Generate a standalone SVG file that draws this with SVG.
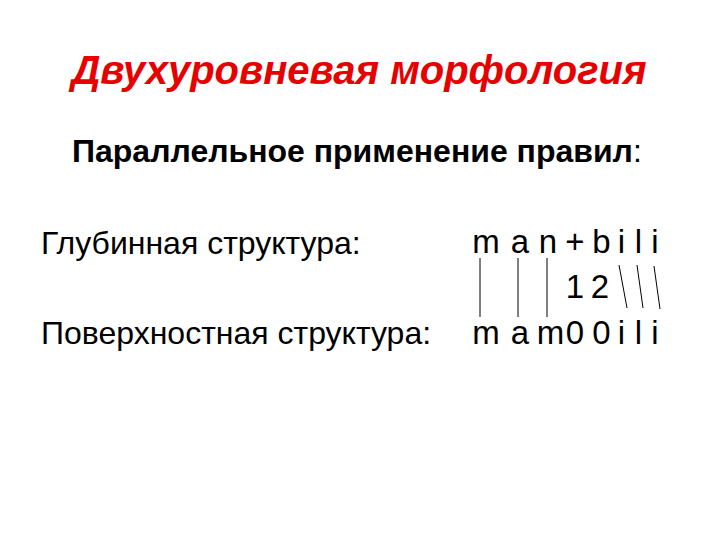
<svg xmlns="http://www.w3.org/2000/svg" width="720" height="540" viewBox="0 0 720 540">
<style>
.t{font-family:"Liberation Sans",Arial,sans-serif;fill:#000}
.title{font-family:"Liberation Sans",Arial,sans-serif;font-weight:bold;font-style:italic;font-size:40px;fill:#e60000}
.sub{font-size:32px;font-weight:bold}
.lbl{font-size:32px}
.ch{font-size:33px;text-anchor:middle}
.ln{stroke:#000;stroke-width:1;fill:none}
</style>
<rect width="720" height="540" fill="#fff"/>
<g id="title"><text class="title" x="359" y="84" text-anchor="middle">Двухуровневая морфология</text></g>
<g id="subtitle"><text class="t sub" x="72" y="162">Параллельное применение правил<tspan font-weight="normal">:</tspan></text></g>
<g id="deep-label"><text class="t lbl" x="41" y="254">Глубинная структура:</text></g>
<g id="surface-label"><text class="t lbl" x="41" y="344">Поверхностная структура:</text></g>
<g id="deep">
<text class="t ch" y="253"><tspan x="486">m</tspan><tspan x="520">a</tspan><tspan x="548">n</tspan><tspan x="575">+</tspan><tspan x="601.5">b</tspan><tspan x="621.5">i</tspan><tspan x="638.5">l</tspan><tspan x="655">i</tspan></text>
</g>
<g id="digits">
<text class="t ch" y="298"><tspan x="575">1</tspan><tspan x="600">2</tspan></text>
</g>
<g id="surface">
<text class="t ch" y="344"><tspan x="486">m</tspan><tspan x="520">a</tspan><tspan x="550.5">m</tspan><tspan x="575">0</tspan><tspan x="601.5">0</tspan><tspan x="621.5">i</tspan><tspan x="638.5">l</tspan><tspan x="655">i</tspan></text>
</g>
<g id="connectors">
<line class="ln" x1="480" y1="258" x2="480" y2="317"/>
<line class="ln" x1="518" y1="258" x2="518" y2="317"/>
<line class="ln" x1="547" y1="258" x2="547" y2="317"/>
<line class="ln" x1="619" y1="265" x2="627" y2="308"/>
<line class="ln" x1="637" y1="265" x2="643" y2="308"/>
<line class="ln" x1="654" y1="266" x2="660" y2="309"/>
</g>
</svg>
